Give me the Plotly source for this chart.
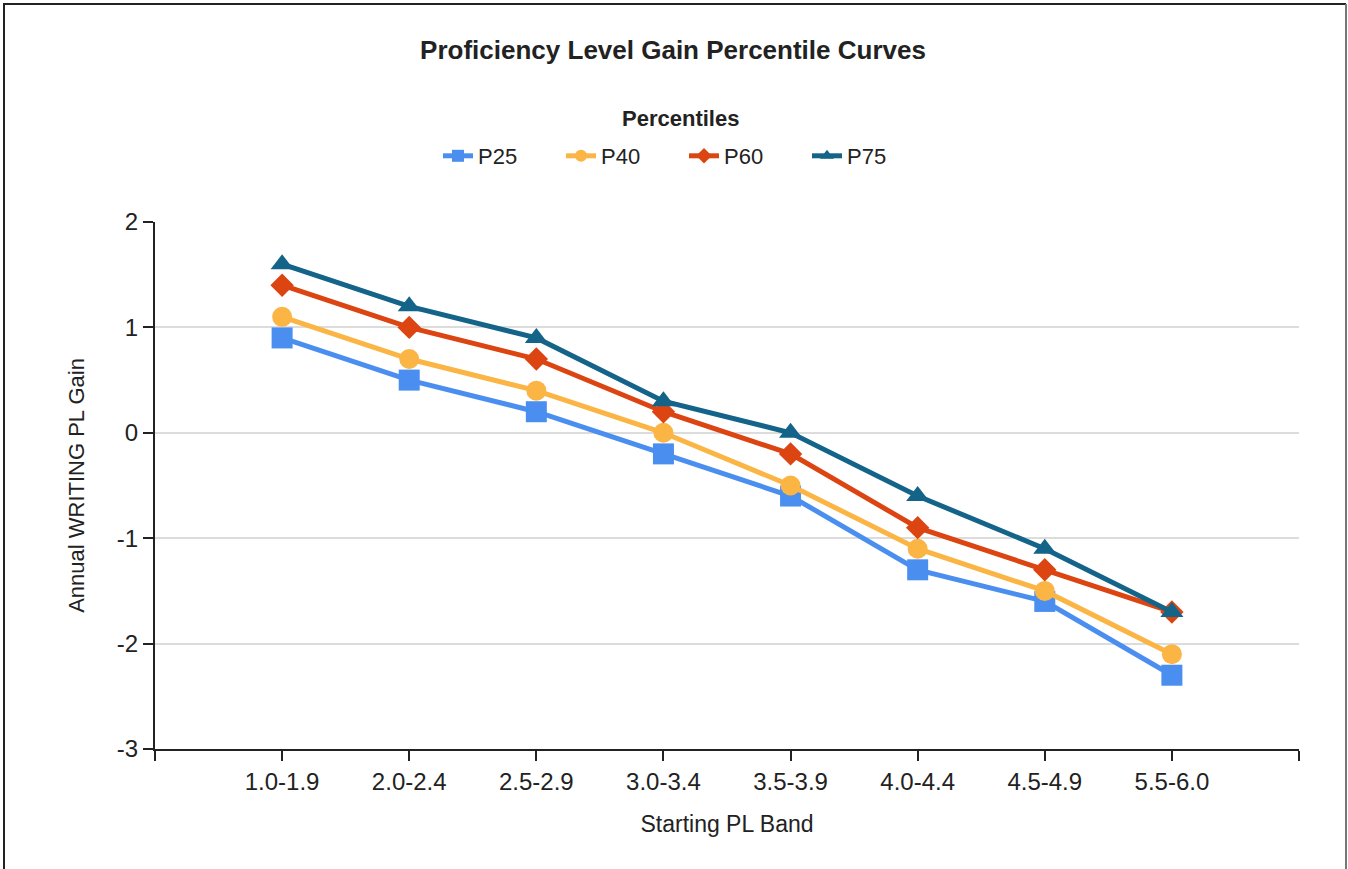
import plotly.graph_objects as go

categories = ["1.0-1.9", "2.0-2.4", "2.5-2.9", "3.0-3.4", "3.5-3.9", "4.0-4.4", "4.5-4.9", "5.5-6.0"]
p25 = [0.9, 0.5, 0.2, -0.2, -0.6, -1.3, -1.6, -2.3]
p40 = [1.1, 0.7, 0.4, 0.0, -0.5, -1.1, -1.5, -2.1]
p60 = [1.4, 1.0, 0.7, 0.2, -0.2, -0.9, -1.3, -1.7]
p75 = [1.6, 1.2, 0.9, 0.3, 0.0, -0.6, -1.1, -1.7]
series_names = ["P25", "P40", "P60", "P75"]
y_ticks = [-3, -2, -1, 0, 1, 2]
y_ticktext = ["-3", "-2", "-1", "0", "1", "2"]

colors = ["#4a8ff0", "#fbb545", "#dc4511", "#14648a"]
symbols = ["square", "circle", "diamond", "triangle-up"]
sizes = [21, 20, 18, 20]

x_idx = list(range(len(categories)))
fig = go.Figure()
for name, vals, c, s, sz in zip(series_names, [p25, p40, p60, p75], colors, symbols, sizes):
    fig.add_trace(go.Scatter(
        x=x_idx, y=vals, name=name, mode="lines+markers",
        line=dict(color=c, width=5),
        marker=dict(color=c, symbol=s, size=sz, line=dict(width=0)),
    ))

tickvals = [-1] + x_idx + [len(categories)]
ticktext = [""] + categories + [""]

W, H = 1348, 869
L, R, T, B = 155, 49, 222, 120
pw, ph = W - L - R, H - T - B

fig.update_layout(
    width=W, height=H,
    paper_bgcolor="white", plot_bgcolor="white",
    margin=dict(l=L, r=R, t=T, b=B),
    font=dict(family="Liberation Sans, Arial, sans-serif", color="#222"),
    title=dict(text="<b>Proficiency Level Gain Percentile Curves</b>", x=673 / W, xref="container",
               y=1 - 50 / H, yref="container", yanchor="middle", xanchor="center",
               font=dict(size=26, color="#222")),
    legend=dict(orientation="h", x=684 / W, xref="container", xanchor="center",
                y=1 - 156 / H, yref="container", yanchor="middle",
                font=dict(size=22), entrywidth=78, entrywidthmode="pixels",
                itemsizing="constant", traceorder="normal"),
    showlegend=True,
    annotations=[dict(text="<b>Percentiles</b>", x=(680 - L) / pw, y=(H - B - 118) / ph,
                      xref="paper", yref="paper", showarrow=False, xanchor="center", yanchor="middle",
                      font=dict(size=22, color="#222"))],
)

fig.update_xaxes(
    range=[-1, len(categories)], tickvals=tickvals, ticktext=ticktext,
    showgrid=False, zeroline=False, showline=True, linecolor="#222", linewidth=2,
    ticks="outside", ticklen=10, tickwidth=2, tickcolor="#222",
    tickfont=dict(size=24), title=dict(text="Starting PL Band", font=dict(size=23), standoff=22),
)
fig.update_yaxes(
    range=[-3, 2], tickvals=y_ticks, ticktext=y_ticktext, showgrid=True, gridcolor="#dcdcdc", gridwidth=1.5,
    zeroline=False, showline=True, linecolor="#222", linewidth=2,
    ticks="outside", ticklen=10, tickwidth=2, tickcolor="#222",
    tickfont=dict(size=24), title=dict(text="Annual WRITING PL Gain", font=dict(size=22), standoff=26),
)
# outer frame (top, left dark; right grey)
def px(x):
    return (x - L) / pw
def py(y):
    return (H - B - y) / ph
fig.add_shape(type="line", xref="paper", yref="paper", x0=px(3), x1=px(1346), y0=py(4), y1=py(4),
              line=dict(color="#222", width=2))
fig.add_shape(type="line", xref="paper", yref="paper", x0=px(4), x1=px(4), y0=py(4), y1=py(H),
              line=dict(color="#222", width=2))
fig.add_shape(type="line", xref="paper", yref="paper", x0=px(1346), x1=px(1346), y0=py(4), y1=py(H),
              line=dict(color="#777", width=2))

fig.write_html("out.html", config={"displayModeBar": False},
               post_script="document.body.style.margin='0';document.body.style.overflow='hidden';")
